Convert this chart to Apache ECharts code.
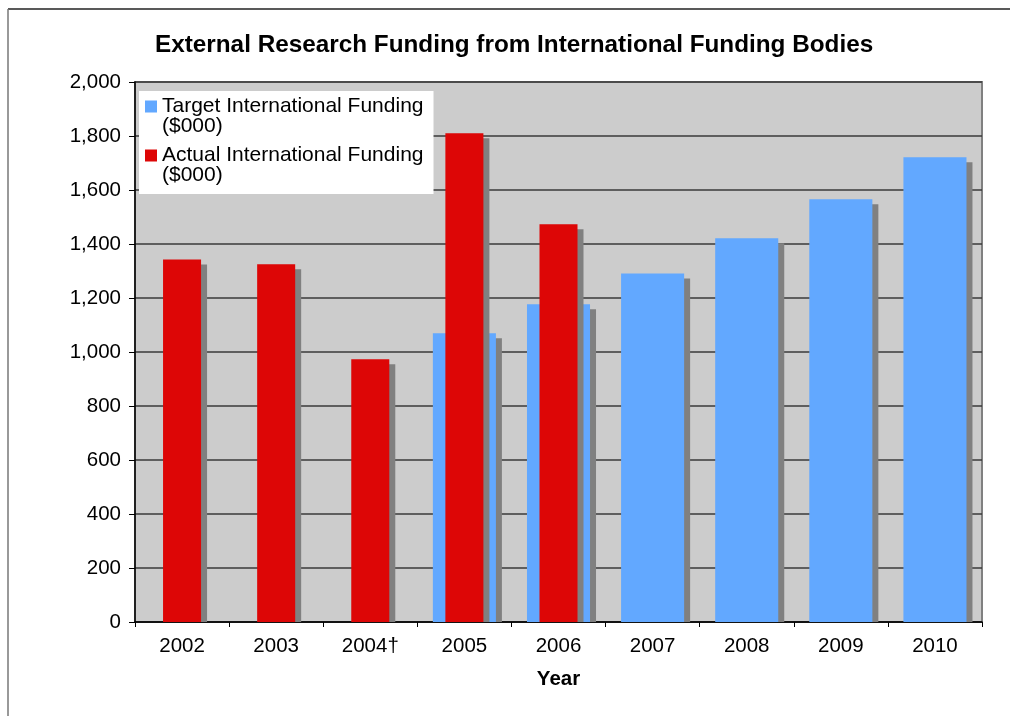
<!DOCTYPE html>
<html>
<head>
<meta charset="utf-8">
<script src="https://cdn.jsdelivr.net/npm/echarts@6/dist/echarts.min.js"></script>
<style>
html,body{margin:0;padding:0;background:#fff;}
#chart{width:1010px;height:716px;}
</style>
</head>
<body>
<div id="chart"></div>
<script>
const years = ['2002', '2003', '2004†', '2005', '2006', '2007', '2008', '2009', '2010'];
const targetFunding = [null, null, null, 1069, 1177, 1291, 1421, 1566, 1721];
const actualFunding = [1343, 1325, 973, 1810, 1473, null, null, null, null];
const yTicks = { min: 0, max: 2000, interval: 200 };
const titleText = 'External Research Funding from International Funding Bodies';
const targetName = 'Target International Funding ($000)';
const actualName = 'Actual International Funding ($000)';

const FONT = "'Liberation Sans', Arial, sans-serif";

function toPairs(arr) {
  const out = [];
  arr.forEach(function (v, i) { if (v !== null) out.push([i, v]); });
  return out;
}

function makeRender(widthRatio, color) {
  return function (params, api) {
    const idx = api.value(0);
    const val = api.value(1);
    const top = api.coord([idx, val]);
    const base = api.coord([idx, 0]);
    const bw = api.size([1, 0])[0] * widthRatio;
    const x = top[0] - bw / 2;
    const h = base[1] - top[1];
    return {
      type: 'group',
      children: [
        { type: 'rect', shape: { x: x + 6, y: top[1] + 5, width: bw, height: Math.max(h - 5, 0) },
          style: { fill: '#808080' } },
        { type: 'rect', shape: { x: x, y: top[1], width: bw, height: h },
          style: { fill: color } }
      ]
    };
  };
}

const chart = echarts.init(document.getElementById('chart'), null, { renderer: 'canvas' });
chart.setOption({
  animation: false,
  backgroundColor: '#ffffff',
  title: {
    text: titleText,
    left: 155, top: 33, padding: 0,
    textStyle: { fontFamily: FONT, fontSize: 24.3, fontWeight: 'bold', color: '#000' }
  },
  legend: {
    orient: 'vertical',
    left: 139, top: 91,
    padding: [5, 10, 8, 6],
    itemGap: 8,
    itemWidth: 12, itemHeight: 32,
    backgroundColor: '#ffffff',
    selectedMode: false,
    data: [
      { name: targetName, icon: 'path://M0,0L12,0L12,12L0,12Z M0,32L0.01,32' },
      { name: actualName, icon: 'path://M0,0L12,0L12,12L0,12Z M0,32L0.01,32' }
    ],
    itemStyle: { borderWidth: 0 },
    formatter: function (name) { return name.replace(' (', '\n('); },
    textStyle: { fontFamily: FONT, fontSize: 21, color: '#000', lineHeight: 20 }
  },
  grid: {
    left: 135, right: 28, top: 82, bottom: 94,
    show: true, backgroundColor: '#cccccc', borderColor: '#808080', borderWidth: 2
  },
  xAxis: {
    type: 'category',
    data: years,
    name: 'Year',
    nameLocation: 'middle',
    nameGap: 47,
    nameTextStyle: { fontFamily: FONT, fontSize: 20.5, fontWeight: 'bold', color: '#000' },
    axisLine: { lineStyle: { color: '#000', width: 1.5 } },
    axisTick: { show: true, length: 5, lineStyle: { color: '#000' } },
    axisLabel: { fontFamily: FONT, fontSize: 20.5, color: '#000', margin: 14 },
    splitLine: { show: false }
  },
  yAxis: {
    type: 'value',
    min: yTicks.min, max: yTicks.max, interval: yTicks.interval,
    axisLine: { show: true, lineStyle: { color: '#000', width: 1.5 } },
    axisTick: { show: true, length: 6, lineStyle: { color: '#000' } },
    axisLabel: {
      fontFamily: FONT, fontSize: 20.5, color: '#000', margin: 14,
      formatter: function (v) { return v.toLocaleString('en-US'); }
    },
    splitLine: { show: true, lineStyle: { color: '#3a3a3a', width: 1.5 } }
  },
  series: [
    {
      name: targetName,
      type: 'custom',
      itemStyle: { color: '#62a8ff' },
      renderItem: makeRender(0.67, '#62a8ff'),
      encode: { x: 0, y: 1 },
      data: toPairs(targetFunding)
    },
    {
      name: actualName,
      type: 'custom',
      itemStyle: { color: '#dd0606' },
      renderItem: makeRender(0.404, '#dd0606'),
      encode: { x: 0, y: 1 },
      data: toPairs(actualFunding)
    }
  ],
  graphic: [
    { type: 'line', shape: { x1: 8, y1: 9, x2: 1010, y2: 9 }, style: { stroke: '#222', lineWidth: 1.5 }, z: 10 },
    { type: 'line', shape: { x1: 8, y1: 9, x2: 8, y2: 716 }, style: { stroke: '#777', lineWidth: 1.5 }, z: 10 }
  ]
});
</script>
</body>
</html>
